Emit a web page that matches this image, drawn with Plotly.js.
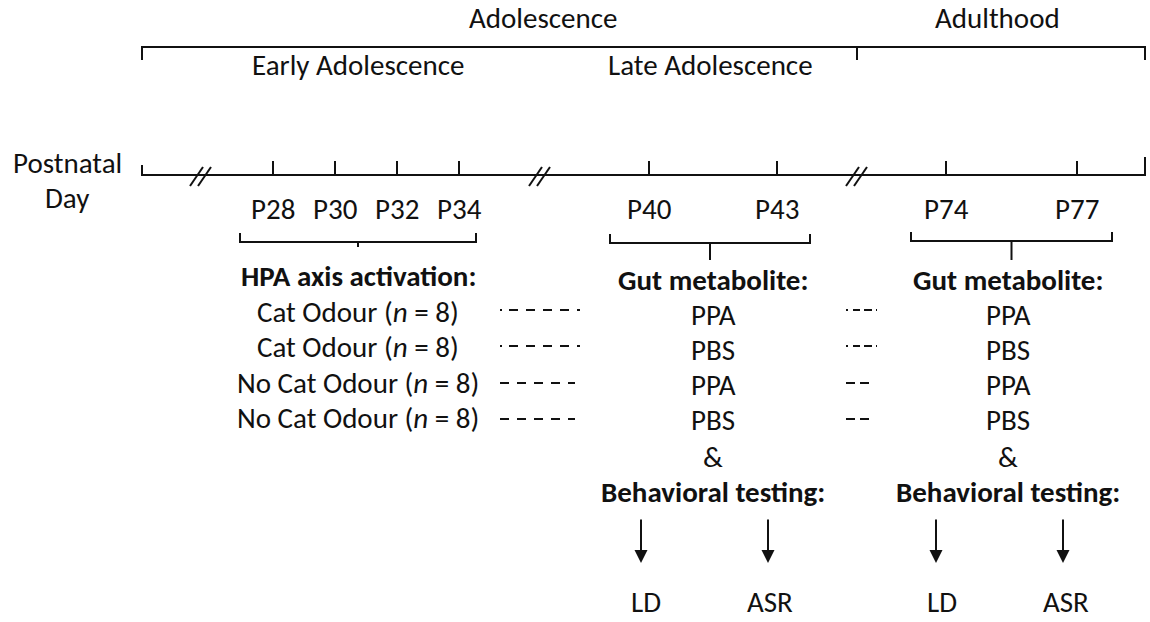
<!DOCTYPE html>
<html>
<head>
<meta charset="utf-8">
<script src="https://cdn.plot.ly/plotly-3.0.1.min.js"></script>
<style>html,body{margin:0;padding:0;background:#fff;}#chart{width:1150px;height:622px;}</style>
</head>
<body>
<div id="chart"></div>
<script>
// ---- content (text / values) ----
const periodLabels = ['Adolescence', 'Adulthood'];
const subPeriodLabels = ['Early Adolescence', 'Late Adolescence'];
const axisLabelLines = ['Postnatal', 'Day'];
const dayLabels = ['P28', 'P30', 'P32', 'P34', 'P40', 'P43', 'P74', 'P77'];
const hpaHeader = 'HPA axis activation:';
const hpaGroups = ['Cat Odour (<i>n</i> = 8)', 'Cat Odour (<i>n</i> = 8)', 'No Cat Odour (<i>n</i> = 8)', 'No Cat Odour (<i>n</i> = 8)'];
const gutHeader = 'Gut metabolite:';
const gutTreatments = ['PPA', 'PBS', 'PPA', 'PBS'];
const joinWord = '&';
const behaviourHeader = 'Behavioral testing:';
const behaviourTests = ['LD', 'ASR'];

// ---- layout positions (diagram coordinates, pixel-like units) ----
const periodX = [543, 997];
const periodY = 18;
const subPeriodX = [358, 710];
const subPeriodY = 65;
const topBracketY = 47;
const topBracketTicks = [142, 857, 1145];
const timelineY = 175;
const timelineX = [142, 1145];
const dayX = [273, 335, 397, 459, 649, 777, 946, 1077];
const dayLabelY = 209;
const breakX = [201, 540, 857];
const groupBrackets = [ {x0: 240, x1: 476, y: 242, stem: 5}, {x0: 610, x1: 810, y: 243, stem: 17}, {x0: 911, x1: 1112, y: 241, stem: 19} ];
const hpaX = 358;
const hpaRowY = [276, 312, 347, 383, 418];
const gutX = [713, 1008];
const gutRowY = [280, 315, 350, 385, 420];
const dashRowY = [310, 346, 383, 419];
const dashSets = [
  {x0: 500, dashes: ['2px,7px,9px,8px,9px,8px,9px,8px,9px,8px,9px,8px,3px,200px', '2px,7px,9px,8px,9px,8px,9px,8px,9px,8px,9px,8px,3px,200px', '9px,8px', '9px,8px'], x1: [580, 580, 575, 575]},
  {x0: 846, dashes: ['2px,5px,7px,4px,8px,4px,2px,100px', '2px,5px,7px,4px,8px,4px,2px,100px', '9px,5px,9px,100px', '9px,5px,9px,100px'], x1: [877, 877, 869, 869]}
];
const joinY = 457;
const behaviourY = 492;
const arrowX = [[641, 768], [936, 1063]];
const arrowY = [518, 563];
const testLabelX = [[646, 770], [942, 1066]];
const testLabelY = 602;

// ---- style ----
const FONT = 'Calibri, Carlito, Lato, sans-serif';
const FS = 29;
const FS_BOLD = 29;
const INK = '#111111';
const LW = 2;

const shapes = [];
const annotations = [];
function line(x0, y0, x1, y1, dash) {
  shapes.push({type: 'line', xref: 'x', yref: 'y', x0: x0, y0: y0, x1: x1, y1: y1,
    line: {color: INK, width: LW, dash: dash || 'solid'}});
}
function text(x, y, t, size) {
  annotations.push({xref: 'x', yref: 'y', x: x, y: y, text: t, showarrow: false, borderpad: 0,
    xanchor: 'center', yanchor: 'middle', font: {family: FONT, size: size || FS, color: INK}});
}

// period labels & bracket
periodLabels.forEach((t, i) => text(periodX[i], periodY, t));
line(topBracketTicks[0], topBracketY, topBracketTicks[topBracketTicks.length - 1], topBracketY);
topBracketTicks.forEach(x => line(x, topBracketY - 1, x, topBracketY + 13));
subPeriodLabels.forEach((t, i) => text(subPeriodX[i], subPeriodY, t));

// timeline
text(67, 163, axisLabelLines[0]);
text(67, 198, axisLabelLines[1]);
line(timelineX[0], timelineY, timelineX[1], timelineY);
line(timelineX[0], timelineY + 1, timelineX[0], timelineY - 10);
line(timelineX[1], timelineY + 1, timelineX[1], timelineY - 18);
dayX.forEach((x, i) => {
  line(x, timelineY, x, timelineY - 14);
  text(x, dayLabelY, dayLabels[i]);
});
breakX.forEach(x => {
  line(x - 11, timelineY + 11, x + 2, timelineY - 8);
  line(x - 3, timelineY + 11, x + 10, timelineY - 8);
});

// group brackets
groupBrackets.forEach(b => {
  line(b.x0, b.y, b.x1, b.y);
  line(b.x0, b.y + 1, b.x0, b.y - 9);
  line(b.x1, b.y + 1, b.x1, b.y - 9);
  const cx = (b.x0 + b.x1) / 2;
  line(cx, b.y, cx, b.y + b.stem);
});

// HPA column
text(hpaX, hpaRowY[0], '<b>' + hpaHeader + '</b>', FS_BOLD);
hpaGroups.forEach((t, i) => text(hpaX, hpaRowY[i + 1], t));

// dashed connectors
dashSets.forEach(s => dashRowY.forEach((y, i) => line(s.x0, y, s.x1[i], y, s.dashes[i])));

// gut metabolite columns
gutX.forEach((gx, k) => {
  text(gx, gutRowY[0], '<b>' + gutHeader + '</b>', FS_BOLD);
  gutTreatments.forEach((t, i) => text(gx, gutRowY[i + 1], t));
  text(gx, joinY, joinWord);
  text(gx, behaviourY, '<b>' + behaviourHeader + '</b>', FS_BOLD);
  arrowX[k].forEach((ax, j) => {
    annotations.push({xref: 'x', yref: 'y', axref: 'x', ayref: 'y', x: ax, y: arrowY[1], ax: ax, ay: arrowY[0],
      text: '', showarrow: true, arrowhead: 2, arrowsize: 1.3, arrowwidth: 2, arrowcolor: INK});
    text(testLabelX[k][j], testLabelY, behaviourTests[j]);
  });
});

const layout = {
  width: 1150, height: 622,
  margin: {l: 0, r: 0, t: 0, b: 0, pad: 0},
  paper_bgcolor: '#ffffff', plot_bgcolor: '#ffffff',
  showlegend: false,
  xaxis: {range: [0, 1150], visible: false, fixedrange: true},
  yaxis: {range: [622, 0], visible: false, fixedrange: true},
  shapes: shapes,
  annotations: annotations
};
Plotly.newPlot('chart', [{x: [], y: [], type: 'scatter', mode: 'markers', hoverinfo: 'skip'}], layout, {staticPlot: true, displayModeBar: false});
</script>
</body>
</html>
